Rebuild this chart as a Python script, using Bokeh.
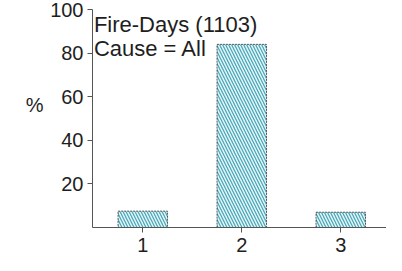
from bokeh.plotting import figure
from bokeh.models import FixedTicker, Range1d, Label, LinearAxis
from bokeh.embed import file_html
from bokeh.resources import INLINE

categories = [1, 2, 3]
percent = [7.5, 84, 7]
y_ticks = [20, 40, 60, 80, 100]
title_lines = ["Fire-Days (1103)", "Cause = All"]
y_label = "%"

FONT = "Liberation Sans"
INK = "#1e1e1e"
AXIS = "#555555"

p = figure(width=386, height=255, output_backend="svg", toolbar_location=None,
           x_range=Range1d(0.492, 3.462), y_range=Range1d(0, 100),
           min_border_left=92, min_border_right=0, min_border_top=9, min_border_bottom=28)
p.outline_line_color = None
p.grid.visible = False
p.background_fill_color = "white"

p.vbar(x=categories, top=percent, width=0.5, bottom=0,
       fill_color="#eaf7f9", hatch_pattern="\\", hatch_color="#4aa8bb",
       hatch_scale=6, hatch_weight=1.3,
       line_color="#333333", line_width=0.8, line_dash="2 1")

xa = p.xaxis[0]
xa.ticker = FixedTicker(ticks=categories)
xa.major_label_text_font = FONT
xa.major_label_text_font_size = "20px"
xa.major_label_text_color = INK
xa.major_label_standoff = 5
xa.major_tick_out = 5
xa.major_tick_in = 0
xa.minor_tick_line_color = None
xa.axis_line_color = AXIS
xa.major_tick_line_color = AXIS

ya = p.yaxis[0]
ya.ticker = FixedTicker(ticks=y_ticks)
ya.major_label_text_font = FONT
ya.major_label_text_font_size = "20px"
ya.major_label_text_color = INK
ya.major_label_standoff = 4
ya.major_tick_out = 5
ya.major_tick_in = 0
ya.minor_tick_line_color = None
ya.axis_line_color = AXIS
ya.major_tick_line_color = AXIS

# separate label-only axis; the trailing empty line lifts the "%" to the reference height
pct_axis = LinearAxis(ticker=FixedTicker(ticks=[]),
                      axis_label=y_label + "\n", axis_label_orientation="horizontal",
                      axis_label_text_font=FONT, axis_label_text_font_size="20px",
                      axis_label_text_font_style="normal", axis_label_text_color=INK,
                      axis_label_standoff=4, axis_line_color=None,
                      major_tick_line_color=None, minor_tick_line_color=None,
                      major_label_text_font_size="0px")
p.add_layout(pct_axis, "left")

p.add_layout(Label(x=0.506, y=93.1, text=title_lines[0], text_font=FONT,
                   text_font_size="22px", text_color=INK, text_baseline="alphabetic"))
p.add_layout(Label(x=0.506, y=82.1, text=title_lines[1], text_font=FONT,
                   text_font_size="22px", text_color=INK, text_baseline="alphabetic"))

open("out.html", "w").write(file_html(p, INLINE))
